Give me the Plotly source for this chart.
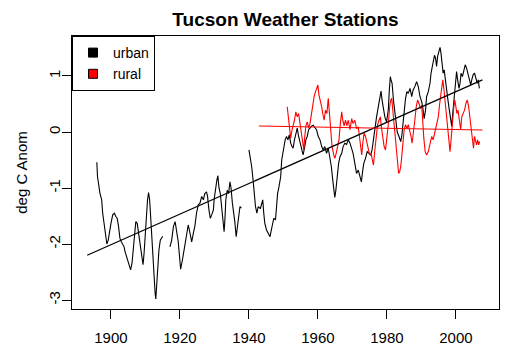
import plotly.graph_objects as go

# ---- data (year, anomaly deg C); None marks a gap ----
urban_year = [
    1895.9, 1896.1, 1896.8, 1897.3, 1897.6, 1898.0, 1898.3, 1898.8, 1899.2, 1899.5,
    1900.0, 1900.5, 1901.0, 1901.4, 1901.8, 1902.2, 1902.6, 1903.0, 1903.4, 1903.8,
    1904.1, 1904.6, 1905.0, 1905.7, 1906.1, 1906.5, 1906.9, 1907.2, 1907.6, 1908.0,
    1908.4, 1908.9, 1909.3, 1909.6, 1909.9, 1910.3, 1910.6, 1910.9, 1911.2, 1911.5,
    1911.8, 1912.1, 1912.5, 1912.8, 1913.0, 1913.2, 1913.5, 1913.9, 1914.3, 1914.7,
    1915.0, 1916.0,
    1917.1, 1917.6, 1918.1, 1918.6, 1919.5, 1920.0, 1920.2, 1920.7, 1921.2, 1921.9,
    1922.4, 1922.9, 1923.4, 1923.9, 1924.3, 1924.8, 1925.3, 1925.8, 1926.3, 1926.8,
    1927.2, 1927.7, 1928.0, 1928.4, 1928.8, 1929.2, 1929.7, 1929.9, 1930.3, 1930.7,
    1931.0, 1931.3, 1931.7, 1932.1, 1932.5, 1932.8, 1933.0, 1933.3, 1933.7, 1934.1,
    1934.5, 1934.8, 1935.2, 1935.6, 1935.9, 1936.3, 1936.6, 1937.0, 1937.4, 1937.8,
    1939.0,
    1940.0, 1940.4, 1940.8, 1941.2, 1941.5, 1941.9, 1942.3, 1942.7, 1943.3, 1943.7,
    1944.0, 1944.3, 1944.6, 1945.1, 1945.6, 1946.1, 1946.4, 1946.8, 1947.2, 1947.7,
    1948.0, 1948.3, 1948.7, 1949.2, 1949.5, 1949.8, 1950.1, 1950.5, 1950.9, 1951.3,
    1951.7, 1952.1, 1952.5, 1952.8, 1953.2, 1953.6, 1954.0, 1954.4, 1954.8, 1955.4,
    1955.7, 1956.1, 1956.5, 1956.9, 1957.3, 1957.7, 1958.2, 1958.6, 1959.1, 1959.6,
    1960.1, 1960.6, 1961.1, 1961.5, 1962.0, 1962.5, 1963.0, 1963.5, 1963.9, 1964.3,
    1964.6, 1964.9, 1965.2, 1965.6, 1966.0, 1966.4, 1966.9, 1967.3, 1967.8, 1968.3,
    1968.8, 1969.3, 1969.8, 1970.2, 1970.7, 1971.2, 1971.7, 1972.2, 1972.6, 1973.0,
    1973.3, 1973.8, 1974.3, 1974.8, 1975.3, 1975.7, 1976.1, 1976.5, 1977.0, 1977.5,
    1978.0, 1978.3, 1978.6, 1979.0, 1979.4, 1979.9, 1980.4, 1980.7, 1981.0, 1981.2,
    1981.5, 1981.9, 1982.3, 1982.6, 1983.0, 1983.5, 1984.0, 1984.3, 1984.6, 1985.0,
    1985.4, 1985.8, 1986.2, 1986.7, 1987.2, 1987.6, 1988.1, 1988.6, 1989.1, 1989.6,
    1990.1, 1990.5, 1990.8, 1991.2, 1991.5, 1992.0, 1992.5, 1992.8, 1993.1, 1993.4,
    1993.8, 1994.1, 1994.4, 1994.7, 1995.1, 1995.4, 1995.7, 1996.0, 1996.3, 1996.6,
    1996.9, 1997.3, 1997.7, 1998.1, 1998.5, 1998.8, 1999.0, 1999.3, 1999.6, 1999.9,
    2000.2, 2000.5, 2000.9, 2001.2, 2001.5, 2001.9, 2002.3, 2002.7, 2003.1, 2003.5,
    2003.9, 2004.3, 2004.6, 2005.0, 2005.4, 2005.8, 2006.2, 2006.5, 2006.8,
]
urban_anom = [
    -0.54, -0.80, -1.09, -1.21, -1.45, -1.63, -1.80, -2.00, -1.93, -1.80,
    -1.63, -1.48, -1.45, -1.51, -1.54, -1.69, -1.90, -1.96, -2.02, -2.05,
    -2.14, -2.25, -2.34, -2.46, -2.34, -2.05, -1.69, -1.60, -1.63, -1.80,
    -2.05, -2.23, -2.37, -2.16, -1.80, -1.45, -1.21, -1.08, -1.21, -1.51,
    -1.87, -2.23, -2.58, -2.88, -2.98, -2.76, -2.40, -2.11, -1.93, -1.90,
    -1.86, None,
    -2.05, -1.93, -1.69, -1.60, -1.96, -2.29, -2.45, -2.29, -2.11, -1.87,
    -1.66, -1.80, -1.96, -1.80, -1.69, -1.45, -1.30, -1.27, -1.15, -1.21,
    -1.10, -1.07, -1.15, -1.39, -1.54, -1.48, -1.39, -1.21, -1.01, -0.86,
    -0.78, -0.99, -1.10, -1.33, -1.63, -1.78, -1.60, -1.21, -1.04, -1.10,
    -0.89, -0.99, -1.27, -1.42, -1.60, -1.87, -1.69, -1.45, -1.33, -1.36,
    None,
    -0.32, -0.44, -0.62, -0.86, -1.15, -1.33, -1.45, -1.33, -1.37, -1.27,
    -1.21, -1.45, -1.63, -1.75, -1.81, -1.87, -1.78, -1.66, -1.54, -1.57,
    -1.33, -1.10, -0.98, -0.80, -0.50, -0.38, -0.26, -0.14, -0.08, -0.14,
    -0.05, -0.20, -0.26, -0.29, -0.14, -0.02, 0.07, -0.08, -0.20, -0.32,
    -0.41, -0.29, -0.14, -0.08, 0.04, 0.07, 0.11, 0.12, 0.08, 0.04,
    -0.08, -0.14, -0.26, -0.32, -0.26, -0.38, -0.29, -0.44, -0.62, -0.86,
    -1.04, -1.17, -1.04, -0.74, -0.56, -0.44, -0.38, -0.26, -0.20, -0.22,
    -0.14, -0.20, -0.29, -0.38, -0.56, -0.74, -0.68, -0.80, -0.89, -0.68,
    -0.56, -0.47, -0.35, -0.38, -0.41, -0.32, -0.14, 0.10, 0.27, 0.45,
    0.66, 0.73, 0.57, 0.39, 0.27, 0.18, 0.39, 0.75, 0.99, 0.93,
    0.87, 0.57, 0.33, 0.15, 0.00, -0.08, -0.17, -0.08, 0.15, 0.39,
    0.60, 0.72, 0.69, 0.78, 0.63, 0.75, 0.81, 0.90, 0.81, 0.63,
    0.54, 0.39, 0.24, 0.39, 0.63, 0.72, 0.87, 1.05, 1.17, 1.29,
    1.37, 1.32, 1.17, 1.35, 1.46, 1.51, 1.40, 1.23, 1.05, 1.11,
    0.93, 0.75, 0.57, 0.39, 0.24, 0.10, 0.27, 0.51, 0.75, 0.99,
    1.08, 0.93, 0.78, 0.87, 1.05, 0.99, 1.11, 1.20, 1.14, 1.05,
    0.93, 0.84, 0.93, 1.02, 1.05, 0.93, 0.87, 0.93, 0.78,
]

rural_year = [
    1951.1, 1951.5, 1951.7, 1952.1, 1952.5, 1952.8, 1953.2, 1953.6, 1954.0, 1954.4,
    1954.8, 1955.2, 1955.6, 1955.9, 1956.1, 1956.5, 1956.9, 1957.3, 1957.7, 1958.2,
    1958.6, 1958.9, 1959.3, 1959.7, 1960.0, 1960.3, 1960.7, 1961.1, 1961.4, 1961.8,
    1962.2, 1962.6, 1963.0, 1963.4, 1963.8, 1964.1, 1964.6, 1964.9, 1965.3, 1965.7,
    1966.1, 1966.5, 1966.9, 1967.2, 1967.6, 1968.0, 1968.4, 1968.8, 1969.3, 1969.8,
    1970.2, 1970.7, 1971.2, 1971.7, 1972.2, 1972.7, 1973.0, 1973.4, 1973.8, 1974.2,
    1974.6, 1975.0, 1975.4, 1975.7, 1976.1, 1976.5, 1976.9, 1977.3, 1977.7, 1978.1,
    1978.5, 1978.8, 1979.2, 1979.6, 1980.0, 1980.4, 1980.8, 1981.1, 1981.4, 1981.7,
    1982.1, 1982.5, 1982.8, 1983.1, 1983.4, 1983.7, 1984.0, 1984.3, 1984.6, 1985.0,
    1985.4, 1985.8, 1986.2, 1986.6, 1987.0, 1987.3, 1987.7, 1988.1, 1988.5, 1988.9,
    1989.3, 1989.7, 1990.1, 1990.4, 1990.7, 1991.1, 1991.5, 1992.0, 1992.5, 1993.0,
    1993.4, 1993.9, 1994.4, 1994.9, 1995.3, 1995.7, 1995.9, 1996.2, 1996.5, 1996.8,
    1997.1, 1997.4, 1997.7, 1998.0, 1998.3, 1998.6, 1998.8, 1999.1, 1999.4, 1999.7,
    2000.0, 2000.3, 2000.6, 2000.9, 2001.2, 2001.4, 2001.7, 2002.1, 2002.5, 2002.9,
    2003.3, 2003.7, 2004.0, 2004.3, 2004.6, 2004.9, 2005.1, 2005.4, 2005.7, 2006.0,
    2006.3, 2006.6, 2006.9,
]
rural_anom = [
    0.45, 0.21, 0.00, -0.11, 0.04, 0.11, 0.21, 0.36, 0.27, 0.33,
    0.15, -0.05, -0.20, -0.32, -0.14, 0.11, 0.18, 0.07, 0.15, 0.36,
    0.54, 0.63, 0.72, 0.81, 0.84, 0.66, 0.57, 0.45, 0.33, 0.21,
    0.39, 0.33, 0.60, 0.27, -0.02, -0.26, -0.41, -0.47, -0.38, -0.26,
    -0.14, 0.15, 0.36, 0.21, 0.11, 0.21, 0.11, 0.21, 0.04, 0.24,
    0.15, 0.21, 0.06, 0.09, -0.20, -0.41, -0.20, -0.02, -0.08, -0.20,
    -0.32, -0.41, -0.38, -0.50, -0.59, -0.32, -0.02, 0.13, 0.21, 0.27,
    0.04, -0.14, -0.26, -0.32, -0.14, 0.13, 0.45, 0.57, 0.60, 0.39,
    0.04, -0.26, -0.44, -0.62, -0.74, -0.71, -0.62, -0.44, -0.20, 0.04,
    0.13, 0.06, 0.13, 0.04, -0.08, -0.20, -0.02, 0.21, 0.45, 0.57,
    0.51, 0.42, 0.48, 0.13, -0.11, -0.35, -0.41, -0.35, -0.20, -0.08,
    -0.14, -0.02, 0.10, 0.27, 0.51, 0.72, 0.81, 0.93, 0.78, 0.57,
    0.39, 0.15, -0.08, -0.26, -0.35, -0.14, 0.04, 0.21, 0.45, 0.57,
    0.42, 0.33, 0.39, 0.24, 0.12, 0.04, 0.27, 0.33, 0.39, 0.51,
    0.57, 0.45, 0.27, 0.10, -0.05, -0.20, -0.29, -0.08, -0.14, -0.23,
    -0.14, -0.23, -0.17,
]

# linear trend end points
urban_trend_year = [1893.1, 2007.7]
urban_trend_anom = [-2.20, 0.93]
rural_trend_year = [1942.9, 2007.7]
rural_trend_anom = [0.107, 0.036]

x_ticks = [1900, 1920, 1940, 1960, 1980, 2000]
y_ticks = [-3, -2, -1, 0, 1]

FONT = "Liberation Sans, Arial, Helvetica, sans-serif"

fig = go.Figure()
fig.add_trace(go.Scatter(x=urban_year, y=urban_anom, mode="lines",
                         line=dict(color="black", width=1.1), connectgaps=False,
                         showlegend=False, hoverinfo="skip"))
fig.add_trace(go.Scatter(x=rural_year, y=rural_anom, mode="lines",
                         line=dict(color="#ff0000", width=1.1),
                         showlegend=False, hoverinfo="skip"))
fig.add_trace(go.Scatter(x=urban_trend_year, y=urban_trend_anom, mode="lines",
                         line=dict(color="black", width=1.2),
                         showlegend=False, hoverinfo="skip"))
fig.add_trace(go.Scatter(x=rural_trend_year, y=rural_trend_anom, mode="lines",
                         line=dict(color="#ff0000", width=1.2),
                         showlegend=False, hoverinfo="skip"))
# legend entries (filled squares, as in the R legend)
fig.add_trace(go.Scatter(x=[None], y=[None], mode="markers", name="urban",
                         marker=dict(symbol="square", size=9, color="black",
                                     line=dict(color="black", width=1))))
fig.add_trace(go.Scatter(x=[None], y=[None], mode="markers", name="rural",
                         marker=dict(symbol="square", size=9, color="#ff0000",
                                     line=dict(color="black", width=1))))

# page body has an 8px margin, so the figure is drawn 8px smaller and offset
fig.update_layout(
    width=509, height=355,
    margin=dict(l=64, r=18, t=28, b=54, autoexpand=False),
    paper_bgcolor="white", plot_bgcolor="white",
    font=dict(family=FONT, size=15, color="black"),
    title=dict(text="<b>Tucson Weather Stations</b>", x=0.5, xref="paper",
               y=1 - 11 / 355, yref="container", yanchor="middle",
               font=dict(family=FONT, size=19, color="black")),
    showlegend=True,
    legend=dict(x=0, y=1, xanchor="left", yanchor="top",
                bgcolor="white", bordercolor="black", borderwidth=1,
                font=dict(family=FONT, size=14, color="black"),
                itemwidth=30, tracegroupgap=0),
)
fig.update_xaxes(range=[1888.7, 2012.5], tickvals=x_ticks,
                 ticktext=[str(v) for v in x_ticks], automargin=False,
                 showgrid=False, zeroline=False, showline=True, linecolor="black",
                 linewidth=1, mirror=True, ticks="outside", ticklen=9,
                 tickcolor="black", tickwidth=1, ticklabelstandoff=6)
fig.update_yaxes(range=[-3.16, 1.714], tickvals=y_ticks,
                 ticktext=[str(v) for v in y_ticks], tickangle=-90,
                 automargin=False,
                 showgrid=False, zeroline=False, showline=True, linecolor="black",
                 linewidth=1, mirror=True, ticks="outside", ticklen=9,
                 tickcolor="black", tickwidth=1, ticklabelstandoff=-4,
                 title=dict(text="deg C Anom", standoff=14,
                            font=dict(family=FONT, size=15, color="black")))

fig.write_html("out.html")
